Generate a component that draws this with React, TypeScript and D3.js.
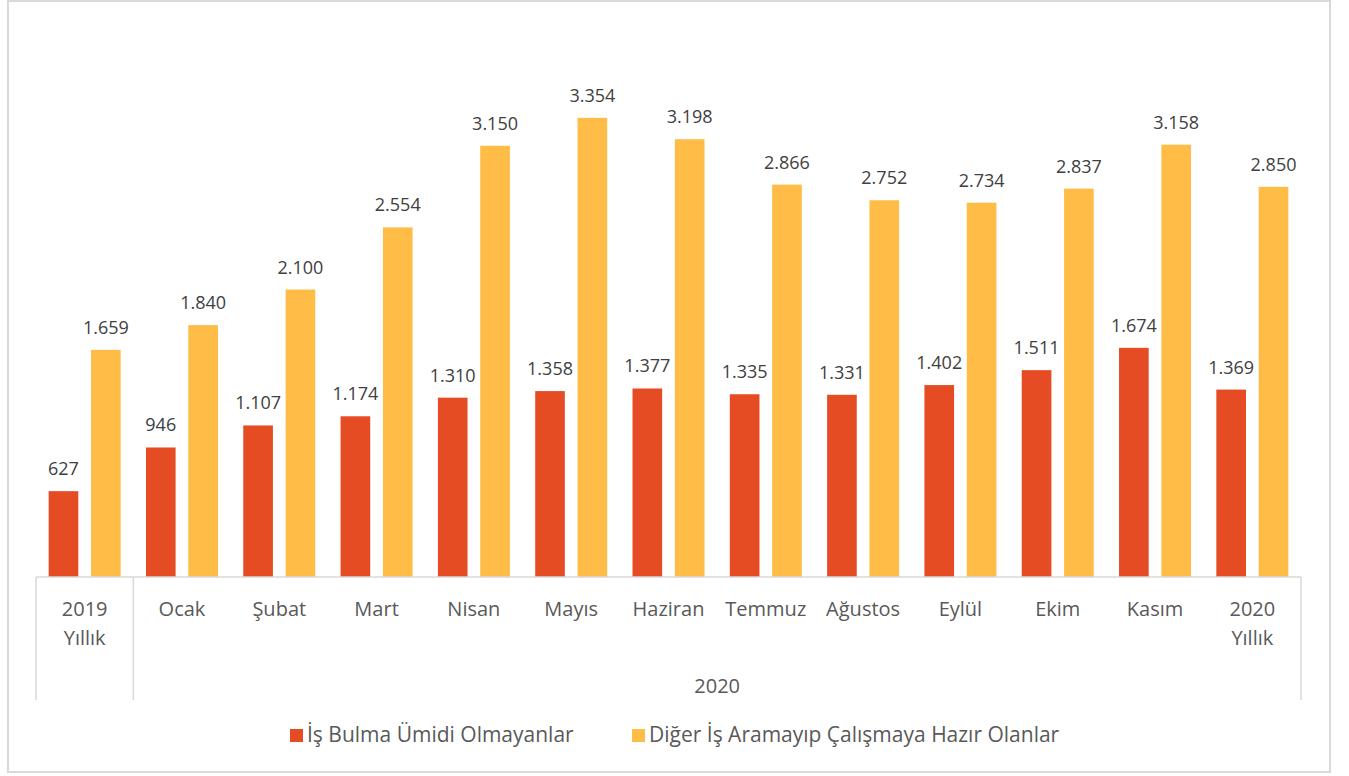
import { useEffect, useRef } from 'react';
import * as d3 from 'd3';

const categories = ['2019\nYıllık', 'Ocak', 'Şubat', 'Mart', 'Nisan', 'Mayıs', 'Haziran', 'Temmuz', 'Ağustos', 'Eylül', 'Ekim', 'Kasım', '2020\nYıllık'];
const umitsiz = [627, 946, 1107, 1174, 1310, 1358, 1377, 1335, 1331, 1402, 1511, 1674, 1369];
const digerHazir = [1659, 1840, 2100, 2554, 3150, 3354, 3198, 2866, 2752, 2734, 2837, 3158, 2850];
const seriesNames = ['İş Bulma Ümidi Olmayanlar', 'Diğer İş Aramayıp Çalışmaya Hazır Olanlar'];
const colors = ['#E64C23', '#FFBC47'];

const W = 1349;
const H = 776;

export default function App() {
  const svgRef = useRef<SVGSVGElement>(null);

  useEffect(() => {
    if (!svgRef.current) return;
    const svg = d3.select(svgRef.current);
    svg.selectAll('*').remove();

    const font = 'Open Sans, Noto Sans, sans-serif';
    const tr = d3.formatLocale({ decimal: ',', thousands: '.', grouping: [3], currency: ['', ' TL'] });
    const fmt = tr.format(',d');

    // outer frame
    svg.append('rect')
      .attr('x', 8).attr('y', 1)
      .attr('width', 1322).attr('height', 771)
      .attr('fill', '#fff')
      .attr('stroke', '#d9d9d9').attr('stroke-width', 2);

    const left = 36, right = 1301, base = 577;
    const x = d3.scaleBand<number>()
      .domain(d3.range(categories.length))
      .range([left, right])
      .paddingInner(0).paddingOuter(0);
    const inner = d3.scaleBand<number>()
      .domain([0, 1])
      .range([0, 72])
      .paddingInner(0.3);
    const y = d3.scaleLinear().domain([0, 4000]).range([base, base - 4000 * 0.1369]);

    const slotOff = (x.bandwidth() - 72) / 2;
    const series = [umitsiz, digerHazir];

    series.forEach((vals, s) => {
      const g = svg.append('g');
      g.selectAll('rect')
        .data(vals)
        .enter().append('rect')
        .attr('x', (_, i) => x(i)! + slotOff + inner(s)!)
        .attr('y', d => y(d))
        .attr('width', inner.bandwidth())
        .attr('height', d => base - y(d))
        .attr('fill', colors[s]);

      g.selectAll('text')
        .data(vals)
        .enter().append('text')
        .attr('x', (_, i) => x(i)! + slotOff + inner(s)! + inner.bandwidth() / 2)
        .attr('y', d => y(d) - 16)
        .attr('text-anchor', 'middle')
        .attr('font-family', font)
        .attr('font-size', 18)
        .attr('fill', '#404040')
        .text(d => fmt(d));
    });

    // category axis
    const axisColor = '#d9d9d9';
    svg.append('line')
      .attr('x1', left).attr('x2', right)
      .attr('y1', base).attr('y2', base)
      .attr('stroke', axisColor).attr('stroke-width', 1.5);
    [left, x(1)!, right].forEach(xx => {
      svg.append('line')
        .attr('x1', xx).attr('x2', xx)
        .attr('y1', base).attr('y2', 700)
        .attr('stroke', axisColor).attr('stroke-width', 1.5);
    });

    categories.forEach((c, i) => {
      const t = svg.append('text')
        .attr('x', x(i)! + x.bandwidth() / 2)
        .attr('y', 616)
        .attr('text-anchor', 'middle')
        .attr('font-family', font)
        .attr('font-size', 20)
        .attr('fill', '#595959');
      c.split('\n').forEach((line, k) => {
        t.append('tspan')
          .attr('x', x(i)! + x.bandwidth() / 2)
          .attr('dy', k === 0 ? 0 : 29)
          .text(line);
      });
    });

    svg.append('text')
      .attr('x', (x(1)! + right) / 2)
      .attr('y', 693)
      .attr('text-anchor', 'middle')
      .attr('font-family', font)
      .attr('font-size', 20)
      .attr('fill', '#595959')
      .text('2020');

    // legend
    const legendX = [290, 632];
    seriesNames.forEach((name, s) => {
      svg.append('rect')
        .attr('x', legendX[s]).attr('y', 729)
        .attr('width', 13).attr('height', 13)
        .attr('fill', colors[s]);
      svg.append('text')
        .attr('x', legendX[s] + 17)
        .attr('y', 742)
        .attr('font-family', font)
        .attr('font-size', 21)
        .attr('fill', '#595959')
        .text(name);
    });
  }, []);

  return (
    <svg ref={svgRef} width={W} height={H} style={{ display: 'block', position: 'absolute', left: 0, top: 0 }} />
  );
}
